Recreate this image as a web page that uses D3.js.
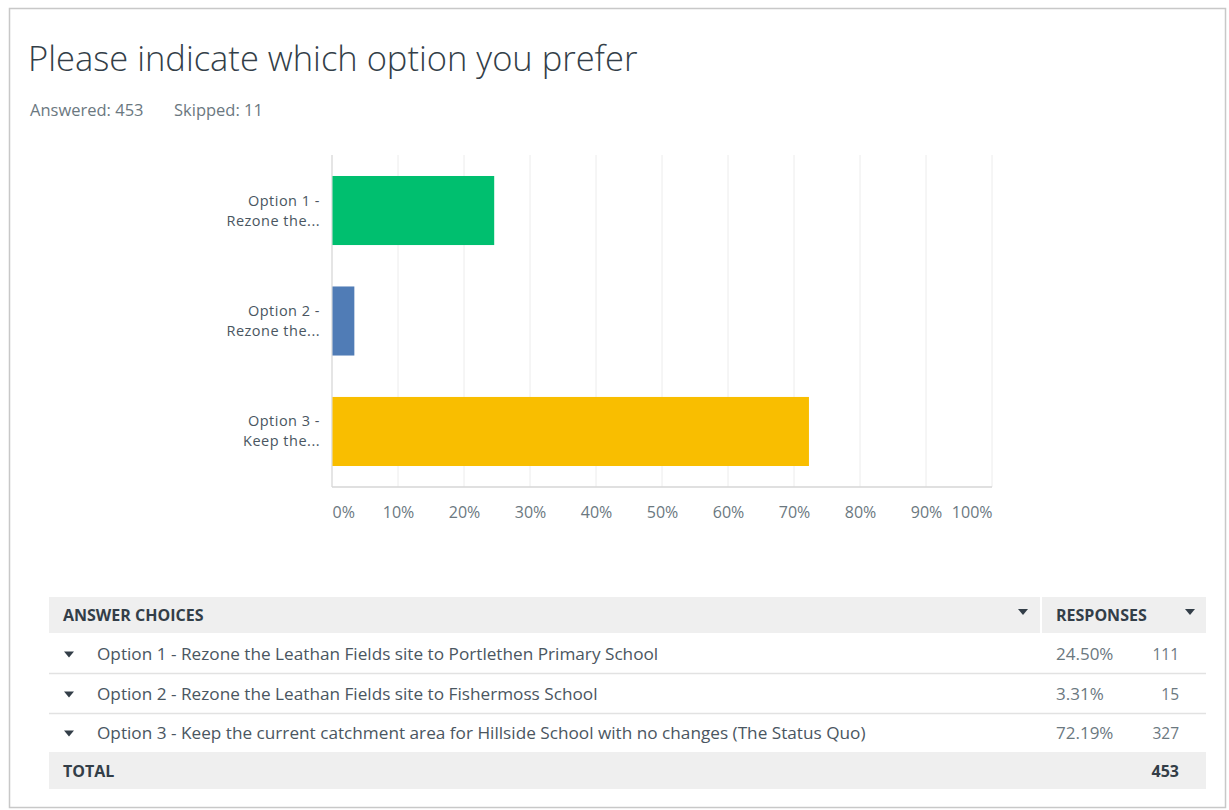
<!DOCTYPE html>
<html><head><meta charset="utf-8">
<script src="https://cdn.jsdelivr.net/npm/d3@7"></script>
<style>
html,body{margin:0;padding:0;background:#fff;}
svg{display:block;}
</style></head>
<body>
<svg id="chart" width="1229" height="810"></svg>
<script>
const categories = ["Option 1 - Rezone the...", "Option 2 - Rezone the...", "Option 3 - Keep the..."];
const labelLines = [["Option 1 -", "Rezone the..."], ["Option 2 -", "Rezone the..."], ["Option 3 -", "Keep the..."]];
const fullChoices = [
  "Option 1 - Rezone the Leathan Fields site to Portlethen Primary School",
  "Option 2 - Rezone the Leathan Fields site to Fishermoss School",
  "Option 3 - Keep the current catchment area for Hillside School with no changes (The Status Quo)"
];
const percents = [24.50, 3.31, 72.19];
const counts = [111, 15, 327];
const total = 453;
const skipped = 11;
const colors = ["#00bf6f", "#507cb6", "#f9be00"];
const tickValues = [0, 10, 20, 30, 40, 50, 60, 70, 80, 90, 100];

const svg = d3.select("#chart");
const font = "'Open Sans', 'Noto Sans', sans-serif";

// card
svg.append("rect").attr("x", 9.5).attr("y", 8.5).attr("width", 1216).attr("height", 799)
  .attr("fill", "#fff").attr("stroke", "#c8c8c8").attr("stroke-width", 1.5);

svg.append("text").attr("x", 28).attr("y", 71).text("Please indicate which option you prefer")
  .attr("font-family", font).attr("font-size", 34.5).attr("font-weight", 300).attr("fill", "#333e48");
svg.append("text").attr("x", 30).attr("y", 116).text(`Answered: ${total}`)
  .attr("font-family", font).attr("font-size", 16.5).attr("fill", "#6b787f");
svg.append("text").attr("x", 174).attr("y", 116).text(`Skipped: ${skipped}`)
  .attr("font-family", font).attr("font-size", 16.5).attr("fill", "#6b787f");

// chart
const x = d3.scaleLinear().domain([0, 100]).range([332, 992]);
const y = d3.scaleBand().domain(categories).range([155, 487]).paddingInner(0.375).paddingOuter(0.19);

const g = svg.append("g");
g.selectAll("line.grid").data(tickValues.slice(1)).join("line").attr("class", "grid")
  .attr("x1", d => x(d)).attr("x2", d => x(d)).attr("y1", 155).attr("y2", 487)
  .attr("stroke", "#ececec").attr("stroke-width", 1);
g.append("line").attr("x1", x(0)).attr("x2", x(0)).attr("y1", 155).attr("y2", 487)
  .attr("stroke", "#dcdcdc").attr("stroke-width", 1.5);
g.append("line").attr("x1", x(0)).attr("x2", x(100)).attr("y1", 487).attr("y2", 487)
  .attr("stroke", "#d6d6d6").attr("stroke-width", 1.5);

g.selectAll("rect.bar").data(categories).join("rect").attr("class", "bar")
  .attr("x", x(0) + 0.5).attr("y", d => y(d))
  .attr("width", (d, i) => x(percents[i]) - x(0)).attr("height", y.bandwidth())
  .attr("fill", (d, i) => colors[i]);

const xAxis = d3.axisBottom(x).tickValues(tickValues).tickFormat(d => d + "%").tickSize(0).tickPadding(0);
const ax = svg.append("g").attr("transform", "translate(0,518)").call(xAxis);
ax.select(".domain").remove();
ax.selectAll("text").attr("font-family", font).attr("font-size", 16).attr("fill", "#6b787f")
  .attr("dy", 0)
  .attr("text-anchor", d => d === 0 ? "start" : d === 100 ? "end" : "middle");

const yl = svg.append("g");
categories.forEach((c, i) => {
  const cy = y(c) + y.bandwidth() / 2;
  labelLines[i].forEach((ln, k) => {
    yl.append("text").attr("text-anchor", "end").attr("font-family", font)
      .attr("font-size", 14.5).attr("letter-spacing", 0.5).attr("fill", "#4a5661")
      .attr("x", 320).attr("y", cy - 5 + k * 20).text(ln);
  });
});

// table
const tL = 49, tR = 1206, colSep = 1041;
const rowTops = [597, 634, 674, 713, 752];
const rowBots = [633, 673, 713, 752, 789];
const tbl = svg.append("g");
tbl.append("rect").attr("x", tL).attr("y", rowTops[0]).attr("width", colSep - tL - 1).attr("height", rowBots[0] - rowTops[0]).attr("fill", "#efefef");
tbl.append("rect").attr("x", colSep + 1).attr("y", rowTops[0]).attr("width", tR - colSep - 1).attr("height", rowBots[0] - rowTops[0]).attr("fill", "#efefef");
tbl.append("rect").attr("x", tL).attr("y", rowTops[4]).attr("width", tR - tL).attr("height", rowBots[4] - rowTops[4]).attr("fill", "#efefef");
[673.5, 713.5].forEach(yy => tbl.append("line").attr("x1", tL).attr("x2", tR).attr("y1", yy).attr("y2", yy).attr("stroke", "#e2e2e2").attr("stroke-width", 1.5));

function tri(cx, cy) {
  tbl.append("path").attr("d", `M${cx - 5},${cy - 3}L${cx + 5},${cy - 3}L${cx},${cy + 3}Z`).attr("fill", "#333e48");
}
const hdr = (txt, xx) => tbl.append("text").attr("x", xx).attr("y", 621).text(txt)
  .attr("font-family", font).attr("font-size", 16).attr("font-weight", 700).attr("fill", "#333e48");
hdr("ANSWER CHOICES", 63);
hdr("RESPONSES", 1056);
tri(1023, 612);
tri(1190, 612);

const rows = tbl.selectAll("g.row").data(fullChoices).join("g").attr("class", "row");
rows.each(function(d, i) {
  const cy = (rowTops[i + 1] + rowBots[i + 1]) / 2;
  const gr = d3.select(this);
  gr.append("path").attr("d", `M${64},${cy - 2}L${74},${cy - 2}L${69},${cy + 4}Z`).attr("fill", "#333e48");
  gr.append("text").attr("x", 97).attr("y", cy + 6).text(d)
    .attr("font-family", font).attr("font-size", 17.2).attr("fill", "#4a5661");
  gr.append("text").attr("x", 1056).attr("y", cy + 6).text(percents[i].toFixed(2) + "%")
    .attr("font-family", font).attr("font-size", 17).attr("fill", "#6b787f");
  gr.append("text").attr("x", 1179).attr("y", cy + 6).attr("text-anchor", "end").text(counts[i])
    .attr("font-family", font).attr("font-size", 15.5).attr("fill", "#6b787f");
});
tbl.append("text").attr("x", 63).attr("y", 777).text("TOTAL")
  .attr("font-family", font).attr("font-size", 16).attr("font-weight", 700).attr("fill", "#333e48");
tbl.append("text").attr("x", 1179).attr("y", 777).attr("text-anchor", "end").text(total)
  .attr("font-family", font).attr("font-size", 16).attr("font-weight", 700).attr("fill", "#333e48");
</script>
</body></html>
